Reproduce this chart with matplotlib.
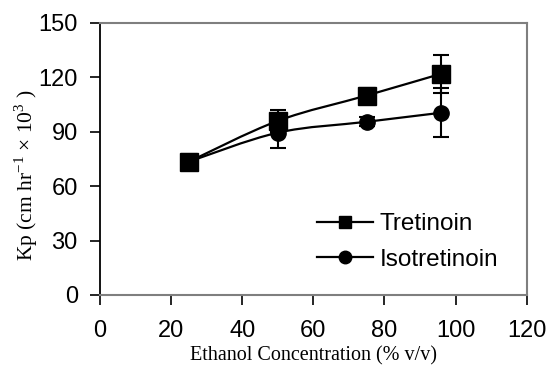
import numpy as np
import matplotlib.pyplot as plt
from matplotlib.path import Path
from matplotlib.patches import PathPatch

# Data
ethanol = [25, 50, 75, 96]
kp_tret = [73.5, 96.0, 110.0, 122.0]
err_tret = [4.0, 6.0, 4.0, 10.5]
kp_iso = [73.5, 89.5, 95.5, 100.5]
err_iso = [3.0, 8.5, 2.5, 13.5]

xticks = [0, 20, 40, 60, 80, 100, 120]
yticks = [0, 30, 60, 90, 120, 150]


def smooth_path(x, y):
    # Excel-style smoothed line: cubic Bezier segments through the points
    p = np.column_stack([x, y]).astype(float)
    ext = np.vstack([p[0], p, p[-1]])
    verts = [tuple(p[0])]
    codes = [Path.MOVETO]
    for i in range(len(p) - 1):
        c1 = ext[i + 1] + (ext[i + 2] - ext[i]) / 6.0
        c2 = ext[i + 2] - (ext[i + 3] - ext[i + 1]) / 6.0
        verts += [tuple(c1), tuple(c2), tuple(p[i + 1])]
        codes += [Path.CURVE4] * 3
    return Path(verts, codes)


fig = plt.figure(figsize=(5.48, 3.65), dpi=100)
ax = fig.add_axes([0.1825, 0.192, 0.7785, 0.745])

for y, e, mk, ms, lab in [(kp_tret, err_tret, 's', 12.5, 'Tretinoin'),
                          (kp_iso, err_iso, 'o', 11, 'Isotretinoin')]:
    ax.add_patch(PathPatch(smooth_path(ethanol, y), fill=False,
                           edgecolor='black', lw=1.6, zorder=3))
    ax.errorbar(ethanol, y, yerr=e, fmt='none', ecolor='black',
                elinewidth=1.5, capsize=5.5, capthick=1.5, zorder=4)
    ax.plot(ethanol, y, linestyle='none', marker=mk, ms=ms,
            color='black', zorder=5)
    # legend proxy
    ax.plot([], [], color='black', lw=1.6, marker=mk, ms=9, label=lab)

ax.set_xlim(0, 120)
ax.set_ylim(0, 150)
ax.set_xticks(xticks)
ax.set_yticks(yticks)
ax.tick_params(axis='both', direction='out', length=7, width=1.2,
               labelsize=17, color='black')
ax.tick_params(axis='y', pad=9)
ax.tick_params(axis='x', pad=11)
for lab in ax.get_xticklabels() + ax.get_yticklabels():
    lab.set_family('Liberation Sans')

ax.spines['left'].set_color('black')
ax.spines['left'].set_linewidth(1.3)
for s in ['top', 'right', 'bottom']:
    ax.spines[s].set_color('#7f7f7f')
    ax.spines[s].set_linewidth(1.5)

ax.set_xlabel('Ethanol Concentration (% v/v)', family='Liberation Serif',
              fontsize=14.5, labelpad=3)
ax.set_ylabel(r'Kp (cm hr$^{\mathregular{-1}}$ $\mathregular{\times}$ 10$^{\mathregular{3}}$ )',
              family='Liberation Serif', fontsize=15.5)
ax.yaxis.set_label_coords(-0.14, 0.44)

leg = ax.legend(loc='center left', bbox_to_anchor=(0.508, 0.195),
                frameon=False, handlelength=2.3,
                handletextpad=0.3, labelspacing=0.55, borderpad=0,
                borderaxespad=0, prop={'family': 'Liberation Sans', 'size': 17.5})

fig.savefig('out.png', dpi=100)
